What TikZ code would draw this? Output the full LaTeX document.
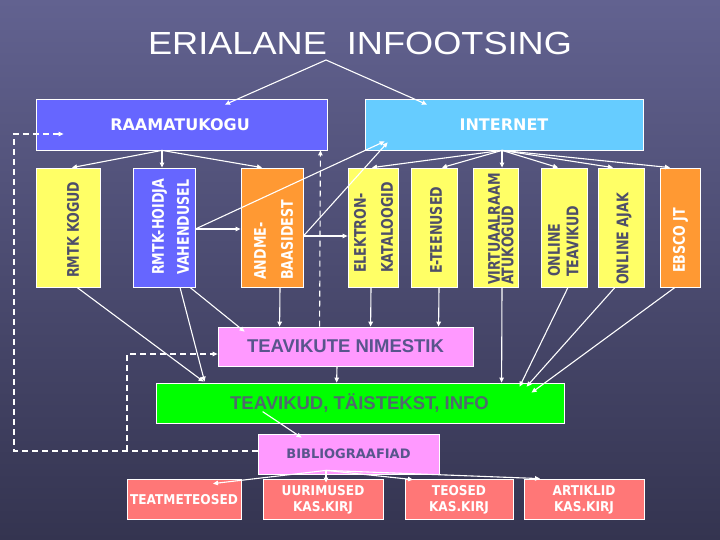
\documentclass[tikz,border=0pt]{standalone}
\usepackage{fontspec}
\setmainfont{DejaVu Sans}
\newfontfamily\arialf{Liberation Sans}
\usetikzlibrary{arrows.meta,calc}
\definecolor{bgtop}{RGB}{98,98,144}
\definecolor{bgbot}{RGB}{52,52,80}
\definecolor{yel}{RGB}{255,255,102}
\definecolor{blu}{RGB}{102,102,255}
\definecolor{ora}{RGB}{255,153,51}
\definecolor{lblu}{RGB}{102,204,255}
\definecolor{pnk}{RGB}{255,153,255}
\definecolor{grn}{RGB}{0,255,0}
\definecolor{sal}{RGB}{255,119,119}
\definecolor{dtxt}{RGB}{78,78,105}
\definecolor{ptxt}{RGB}{88,85,140}
\definecolor{gtxt}{RGB}{80,105,110}
\begin{document}
\begin{tikzpicture}[x=1pt,y=-1pt,
  box/.style={draw=white, line width=0.8pt, inner sep=0pt},
  vline/.style={rotate=90, xscale=0.79, anchor=base west, inner sep=0pt,
    font=\bfseries\fontsize{16}{16}\selectfont},
  btxt/.style={text=white, align=center, xscale=0.9,
    font=\bfseries\fontsize{13.5}{16}\selectfont},
  arr/.style={draw=white, line width=1.1pt, -{Triangle[length=5pt,width=4.5pt]}},
  dsh/.style={draw=white, line width=1.1pt, dash pattern=on 6pt off 4pt},
]
\useasboundingbox (0,0) rectangle (720,540);
\shade[top color=bgtop, bottom color=bgbot] (0,0) rectangle (720,540);

% title
\node[font=\arialf\fontsize{32}{32}\selectfont, text=white, xscale=1.13, anchor=base, inner sep=0pt]
  (title) at (360,55) {ERIALANE\ \ INFOOTSING};
\coordinate (tt) at (326,60);

% top boxes
\node[box, fill=blu, minimum width=291, minimum height=51] (raam) at (181.5,124.5) {};
\node[text=white, font=\bfseries\fontsize{16}{16}\selectfont] (raamt) at (180,125) {RAAMATUKOGU};
\node[box, fill=lblu, minimum width=278, minimum height=51] (inet) at (504,124.5) {};
\node[text=white, font=\bfseries\fontsize{16}{16}\selectfont] (inett) at (504,125) {INTERNET};

% vertical boxes
\node[box, fill=yel, minimum width=64, minimum height=119] (rk) at (68,227.5) {};
\node[box, fill=blu, minimum width=62, minimum height=119] (rh) at (164,227.5) {};
\node[box, fill=ora, minimum width=62, minimum height=119] (ab) at (272,227.5) {};
\node[box, fill=yel, minimum width=50, minimum height=119] (ek) at (373,227.5) {};
\node[box, fill=yel, minimum width=46, minimum height=119] (et) at (434,227.5) {};
\node[box, fill=yel, minimum width=45, minimum height=119] (vr) at (495.5,227.5) {};
\node[box, fill=yel, minimum width=46, minimum height=119] (ot) at (564,227.5) {};
\node[box, fill=yel, minimum width=46, minimum height=119] (oa) at (621,227.5) {};
\node[box, fill=ora, minimum width=40, minimum height=119] (eb) at (680,227.5) {};

% vertical texts (x = line centre + half cap height, y = bottom of text)
\node[vline, text=dtxt] (rkt) at (78.8,278) {RMTK KOGUD};
\node[vline, text=white] (rht1) at (163.8,275) {RMTK-HOIDJA};
\node[vline, text=white] (rht2) at (188.8,275) {VAHENDUSEL};
\node[vline, text=white] (abt1) at (265.8,280) {ANDME-};
\node[vline, text=white] (abt2) at (292.8,280) {BAASIDEST};
\node[vline, text=dtxt] (ekt1) at (365.8,273) {ELEKTRON-};
\node[vline, text=dtxt] (ekt2) at (392.8,273) {KATALOOGID};
\node[vline, text=dtxt] (ett) at (441.8,274) {E-TEENUSED};
\node[vline, text=dtxt] (vrt1) at (499.8,285) {VIRTUAALRAAM};
\node[vline, text=dtxt] (vrt2) at (513.3,285) {ATUKOGUD};
\node[vline, text=dtxt] (ott1) at (559.8,277) {ONLINE};
\node[vline, text=dtxt] (ott2) at (578.3,277) {TEAVIKUD};
\node[vline, text=dtxt] (oat) at (628.3,285) {ONLINE AJAK};
\node[vline, text=white] (ebt) at (684.8,273) {EBSCO JT};

% middle boxes
\node[box, fill=pnk, minimum width=255, minimum height=39, text=ptxt,
  font=\arialf\bfseries\fontsize{18.5}{18.5}\selectfont] (tn) at (345.5,346.5) {TEAVIKUTE NIMESTIK};
\node[box, fill=grn, minimum width=408, minimum height=40] (tk) at (360,403) {};
\node[text=gtxt, font=\arialf\bfseries\fontsize{18.5}{18.5}\selectfont] (tkt) at (359.5,403) {TEAVIKUD, TÄISTEKST, INFO};
\node[box, fill=pnk, minimum width=181, minimum height=40, text=ptxt,
  font=\bfseries\fontsize{13}{13}\selectfont] (bi) at (348.5,454) {BIBLIOGRAAFIAD};

% bottom boxes
\node[box, fill=sal, minimum width=114, minimum height=40] (tm) at (184,499) {};
\node[btxt] (tmt) at (184,500) {TEATMETEOSED};
\node[box, fill=sal, minimum width=120, minimum height=40] (uu) at (323,499) {};
\node[btxt] (uut) at (323,500) {UURIMUSED\\KAS.KIRJ};
\node[box, fill=sal, minimum width=108, minimum height=40] (te) at (459,499) {};
\node[btxt] (tet) at (459,500) {TEOSED\\KAS.KIRJ};
\node[box, fill=sal, minimum width=120, minimum height=40] (ar) at (584,499) {};
\node[btxt] (art) at (584,500) {ARTIKLID\\KAS.KIRJ};

% connectors: title
\draw[arr] (tt) -- ($(raam.north)+(43.5,6)$);
\draw[arr] (tt) -- ($(inet.north)+(-77,6)$);

% raamatukogu
\coordinate (rs) at ($(raam.south)+(-19.5,0)$);
\draw[arr] (rs) -- ($(rk.north)+(4,0)$);
\draw[arr] (rs) -- ($(rh.north)+(-2,0)$);
\draw[arr] (rs) -- ($(ab.north)+(-10,0)$);

% internet
\coordinate (is) at ($(inet.south)+(-2,0)$);
\draw[arr] (is) -- ($(ek.north)+(-1,0)$);
\draw[arr] (is) -- ($(et.north)+(8,0)$);
\draw[arr] (is) -- ($(vr.north)+(6.5,0)$);
\draw[arr] (is) -- ($(ot.north)+(-6,0)$);
\draw[arr] (is) -- ($(oa.north)+(-8,0)$);
\draw[arr] (is) -- ($(eb.north)+(-10,0)$);

% side links
\coordinate (rhe) at ($(rh.east)+(0,1.5)$);
\coordinate (abe) at ($(ab.east)+(0,8.5)$);
\draw[arr] (rhe) -- ($(ab.west)+(0,1.5)$);
\draw[arr] (rhe) -- ($(inet.south west)+(20,-9)$);
\draw[arr] (abe) -- ($(ek.west)+(0,8.5)$);
\draw[arr] (abe) -- ($(inet.south west)+(23,-8)$);

% down to teavikute nimestik
\draw[arr] ($(ab.south)+(8,0)$) -- ($(tn.north west)+(62,0)$);
\draw[arr] ($(ek.south)+(-2,0)$) -- ($(tn.north west)+(153,0)$);
\draw[arr] ($(et.south)+(5,0)$) -- ($(tn.north west)+(221,0)$);
\draw[arr] ($(rh.south)+(26,0)$) -- ($(tn.north west)+(27,5)$);

% dashed feedback
\draw[dsh, -{Triangle[length=5pt,width=4.5pt]}] ($(tn.north west)+(102,0)$) -- ($(raam.south east)+(-7,0)$);
\coordinate (bw) at ($(bi.west)+(0,-3)$);
\coordinate (dj) at (127,451);
\draw[dsh, -{Triangle[length=5pt,width=4.5pt]}] (bw) -- (14,451) |- ($(raam.west)+(28,9.5)$);
\draw[dsh, -{Triangle[length=5pt,width=4.5pt]}] (dj) |- ($(tn.west)+(0,7.5)$);

% down to green box
\draw[arr] ($(tn.south)+(-8.5,0)$) -- ($(tk.north west)+(181,0)$);
\draw[arr] ($(vr.south)+(6.5,0)$) -- ($(tk.north west)+(346,0)$);
\draw[arr] ($(ot.south)+(4,0)$) -- ($(tk.north west)+(364,4)$);
\draw[arr] ($(oa.south)+(-6,0)$) -- ($(tk.north west)+(371,4)$);
\draw[arr] ($(eb.south)+(-5,0)$) -- ($(tk.north west)+(376,10)$);
\draw[arr] ($(rk.south)+(9,0)$) -- ($(tk.north west)+(48,-1)$);
\draw[arr] ($(rh.south)+(16,0)$) -- ($(tk.north west)+(49,-1)$);

% green to bibliograafiad
\draw[arr] ($(tk.north west)+(107,29)$) -- ($(bi.north west)+(44,4)$);

% bibliograafiad to bottom
\coordinate (bs) at ($(bi.south)+(-22.5,-4)$);
\draw[arr] (bs) -- ($(tm.north)+(29,5)$);
\draw[arr] (bs) -- ($(uu.north)+(3,4)$);
\draw[arr] (bs) -- ($(te.north)+(-46,1)$);
\draw[arr] (bs) -- ($(ar.north)+(-44,0)$);
\end{tikzpicture}
\end{document}
